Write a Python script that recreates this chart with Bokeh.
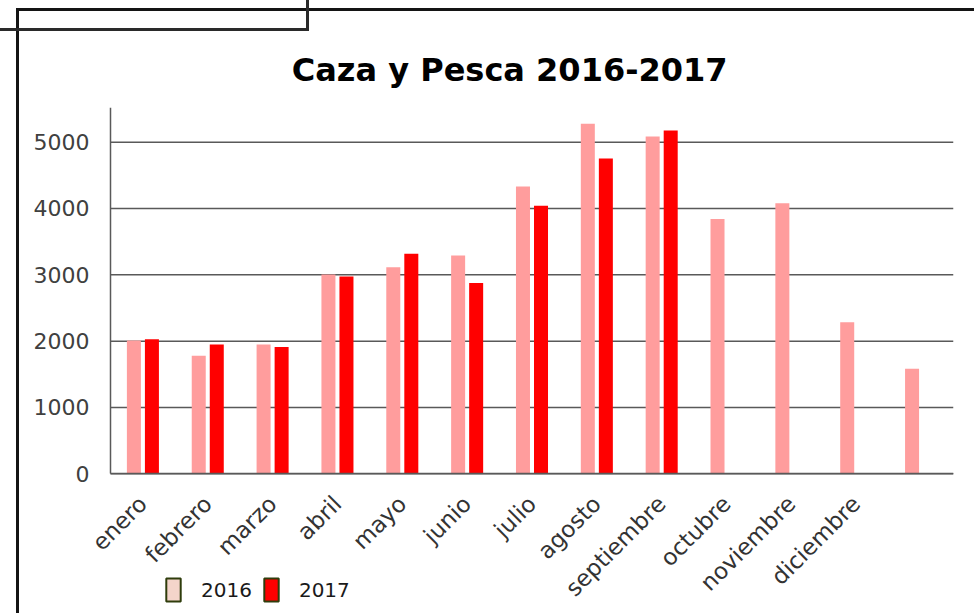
import math
from bokeh.plotting import figure
from bokeh.models import (Range1d, ColumnDataSource, Legend, LegendItem,
                          FixedTicker, Title, InlineStyleSheet)
from bokeh.transform import dodge
from bokeh.embed import file_html
from bokeh.resources import INLINE

# ---- data ----
meses = ["enero", "febrero", "marzo", "abril", "mayo", "junio", "julio",
         "agosto", "septiembre", "octubre", "noviembre", "diciembre", ""]
val_2016 = [2010, 1780, 1950, 3005, 3115, 3290, 4330, 5278, 5085, 3840,
            4080, 2286, 1583]
val_2017 = [2030, 1950, 1910, 2975, 3317, 2875, 4040, 4755, 5177]
y_ticks = [0, 1000, 2000, 3000, 4000, 5000]
titulo = "Caza y Pesca 2016-2017"
series = ["2016", "2017"]

# category slots 1..13 on a numeric axis
pos = list(range(1, len(meses) + 1))
X_LO, X_HI = pos[0] - 0.5, pos[-1] + 0.5

FONT = "DejaVu Sans"
GRID = "#595959"
Y_TOP = 5522
Y_BOTTOM = -2106   # room below the zero line for rotated labels and legend

css = """
:host::before {
  content: ""; position: absolute; left: 16px; top: 8px; right: 0px; bottom: -4px;
  border-top: 3px solid #141414; border-left: 3px solid #141414;
  pointer-events: none; z-index: 50;
}
:host::after {
  content: ""; position: absolute; left: 0px; top: 0px; width: 306px; height: 28px;
  border-bottom: 3px solid #2a2a2a; border-right: 3px solid #2a2a2a;
  pointer-events: none; z-index: 50;
}
"""

p = figure(width=974, height=613, title=None,
           x_range=Range1d(-1.196, X_HI),
           y_range=Range1d(Y_BOTTOM, Y_TOP),
           output_backend="svg", toolbar_location=None,
           min_border_left=0, min_border_right=21,
           min_border_top=107, min_border_bottom=0,
           stylesheets=[InlineStyleSheet(css=css)])

p.outline_line_color = None
p.background_fill_color = "white"
p.border_fill_color = "white"

p.add_layout(Title(text=titulo, align="right", offset=226,
                   text_font=FONT, text_font_style="bold",
                   text_font_size="32px", text_color="#000000",
                   standoff=38), "above")

# y axis at the left edge of the first category
p.yaxis.fixed_location = X_LO
p.yaxis.ticker = FixedTicker(ticks=y_ticks)
p.yaxis.bounds = (0, Y_TOP)
p.yaxis.major_tick_in = 0
p.yaxis.major_tick_out = 0
p.yaxis.minor_tick_in = 0
p.yaxis.minor_tick_out = 0
p.yaxis.axis_line_color = GRID
p.yaxis.axis_line_width = 1.5
p.yaxis.major_label_text_font = FONT
p.yaxis.major_label_text_font_size = "22px"
p.yaxis.major_label_text_color = "#404040"
p.yaxis.major_label_standoff = 21

# x axis on the zero line
p.xaxis.fixed_location = 0
p.xaxis.bounds = (X_LO, X_HI)
p.xaxis.ticker = FixedTicker(ticks=pos[:-1])
p.xaxis.major_label_overrides = {i: m for i, m in zip(pos, meses)}
p.xaxis.major_tick_in = 0
p.xaxis.major_tick_out = 0
p.xaxis.minor_tick_in = 0
p.xaxis.minor_tick_out = 0
p.xaxis.axis_line_color = GRID
p.xaxis.axis_line_width = 1.5
p.xaxis.major_label_orientation = math.pi / 4
p.xaxis.major_label_text_font = FONT
p.xaxis.major_label_text_font_size = "23px"
p.xaxis.major_label_text_color = "#333333"
p.xaxis.major_label_standoff = 26

p.xgrid.grid_line_color = None
p.ygrid.grid_line_color = None

# horizontal gridlines between the axis and the right end of the plot
p.segment(x0=[X_LO] * len(y_ticks), x1=[X_HI] * len(y_ticks),
          y0=y_ticks, y1=y_ticks, line_color=GRID, line_width=1.5,
          level="underlay")

# bars
src16 = ColumnDataSource(dict(x=pos, y=val_2016))
src17 = ColumnDataSource(dict(x=pos[:len(val_2017)], y=val_2017))

p.vbar(x=dodge("x", -0.139), top="y", width=0.216,
       source=src16, fill_color="#ff9d9d", line_color=None)
p.vbar(x=dodge("x", 0.139), top="y", width=0.216,
       source=src17, fill_color="#ff0000", line_color=None)

# legend-only renderers (outlined swatches)
l16 = p.vbar(x=dodge("x", -0.139), top="y", width=0.216,
             source=src16, fill_color="#f4d4ca", line_color="#2f3d0c",
             line_width=2, visible=False)
l17 = p.vbar(x=dodge("x", 0.139), top="y", width=0.216,
             source=src17, fill_color="#ff0000", line_color="#2f3d0c",
             line_width=2, visible=False)

legend = Legend(items=[LegendItem(label=series[0], renderers=[l16]),
                       LegendItem(label=series[1], renderers=[l17])],
                orientation="horizontal", location=(164, 9),
                glyph_width=18, glyph_height=29, label_standoff=19,
                spacing=10, padding=0, margin=0,
                border_line_color=None, background_fill_alpha=0,
                label_text_font=FONT, label_text_font_size="20px",
                label_text_color="#1a1a1a")
p.add_layout(legend)

open("out.html", "w").write(file_html(p, INLINE))
